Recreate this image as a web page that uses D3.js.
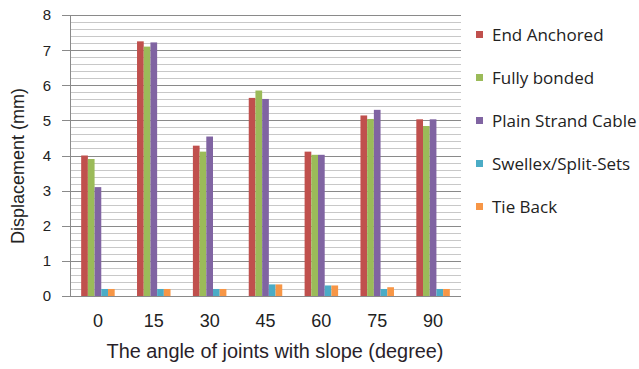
<!DOCTYPE html>
<html><head><meta charset="utf-8">
<script src="https://cdn.jsdelivr.net/npm/d3@7"></script>
<style>body{margin:0;background:#fff}svg{display:block}</style>
</head><body><svg id="c" width="639" height="369"></svg>
<script>
const categories = ["0","15","30","45","60","75","90"];
const seriesNames = ["End Anchored","Fully bonded","Plain Strand Cable","Swellex/Split-Sets","Tie Back"];
const endAnchored = [4.0, 7.25, 4.28, 5.64, 4.11, 5.14, 5.03];
const fullyBonded = [3.9, 7.1, 4.11, 5.85, 4.02, 5.04, 4.84];
const plainStrand = [3.1, 7.22, 4.54, 5.61, 4.02, 5.3, 5.03];
const swellex = [0.2, 0.2, 0.2, 0.33, 0.3, 0.2, 0.2];
const tieBack = [0.2, 0.2, 0.2, 0.33, 0.3, 0.25, 0.2];
const colors = ["#C0504D","#9BBB59","#8064A2","#4BACC6","#F79646"];
const yTicks = [0,1,2,3,4,5,6,7,8];
const xTitle = "The  angle of joints with slope (degree)";
const yTitle = "Displacement (mm)";

const seriesVals = [endAnchored, fullyBonded, plainStrand, swellex, tieBack];
const svg = d3.select("#c");
const L = 70, R = 461, T = 15, B = 296;
const x = d3.scaleBand().domain(categories).range([L, R]);
const bw = x.bandwidth();
const x1 = d3.scaleBand().domain(seriesNames).range([bw*0.2, bw*0.8]);
const y = d3.scaleLinear().domain([0, 8]).range([B, T]);

// minor gridlines
const minor = d3.range(0, 8.0001, 0.2).filter(v => Math.abs(v - Math.round(v)) > 1e-6);
svg.append("g").selectAll("line").data(minor).join("line")
  .attr("x1", L).attr("x2", R)
  .attr("y1", d => Math.round(y(d)) + 0.5).attr("y2", d => Math.round(y(d)) + 0.5)
  .attr("stroke", "#c8c8c8").attr("stroke-width", 1);
// major gridlines
svg.append("g").selectAll("line").data(yTicks).join("line")
  .attr("x1", L - 8).attr("x2", R)
  .attr("y1", d => Math.round(y(d)) + 0.5).attr("y2", d => Math.round(y(d)) + 0.5)
  .attr("stroke", "#8a8a8a").attr("stroke-width", 1);

// bars
const groups = svg.append("g").selectAll("g").data(categories).join("g")
  .attr("transform", d => `translate(${x(d)},0)`);
groups.selectAll("rect").data((d, i) => seriesNames.map((s, j) => ({s, j, v: seriesVals[j][i]})))
  .join("rect")
  .attr("x", d => x1(d.s)).attr("width", x1.bandwidth())
  .attr("y", d => y(d.v)).attr("height", d => y(0) - y(d.v))
  .attr("fill", d => colors[d.j]);

// axis lines
svg.append("line").attr("x1", L + 0.5).attr("x2", L + 0.5).attr("y1", T).attr("y2", B + 0.5)
  .attr("stroke", "#8a8a8a");
svg.append("line").attr("x1", L - 8).attr("x2", R).attr("y1", B + 0.5).attr("y2", B + 0.5)
  .attr("stroke", "#8a8a8a");

// y tick labels
svg.append("g").selectAll("text").data(yTicks).join("text")
  .attr("x", 47).attr("y", d => y(d)).attr("dy", "0.36em")
  .attr("text-anchor", "middle")
  .attr("font-family", "Liberation Sans, Arial, sans-serif").attr("font-size", 15)
  .attr("fill", "#222").text(d => d);

// x tick labels
svg.append("g").selectAll("text").data(categories).join("text")
  .attr("x", d => x(d) + bw / 2).attr("y", 327)
  .attr("text-anchor", "middle")
  .attr("font-family", "Liberation Sans Narrow, Liberation Sans, Arial, sans-serif").attr("font-size", 18)
  .attr("fill", "#222").text(d => d);

// x title
svg.append("text").attr("x", 275).attr("y", 358).attr("text-anchor", "middle")
  .attr("font-family", "Liberation Sans Narrow, Liberation Sans, Arial, sans-serif").attr("font-size", 20)
  .attr("textLength", 337).attr("lengthAdjust", "spacingAndGlyphs")
  .attr("fill", "#2a1f2a").text(xTitle);

// y title
svg.append("text").attr("transform", "translate(24,166) rotate(-90)")
  .attr("text-anchor", "middle")
  .attr("font-family", "Liberation Sans, Arial, sans-serif").attr("font-size", 18)
  .attr("fill", "#222").text(yTitle);

// legend
const leg = svg.append("g").selectAll("g").data(seriesNames).join("g")
  .attr("transform", (d, i) => `translate(476,${35 + i * 43})`);
leg.append("rect").attr("x", 0).attr("y", -4).attr("width", 7).attr("height", 7)
  .attr("fill", (d, i) => colors[i]);
leg.append("text").attr("x", 16).attr("y", 0).attr("dy", "0.36em")
  .attr("font-family", "Open Sans, sans-serif").attr("font-size", 17)
  .attr("fill", "#222").text(d => d);
</script></body></html>
